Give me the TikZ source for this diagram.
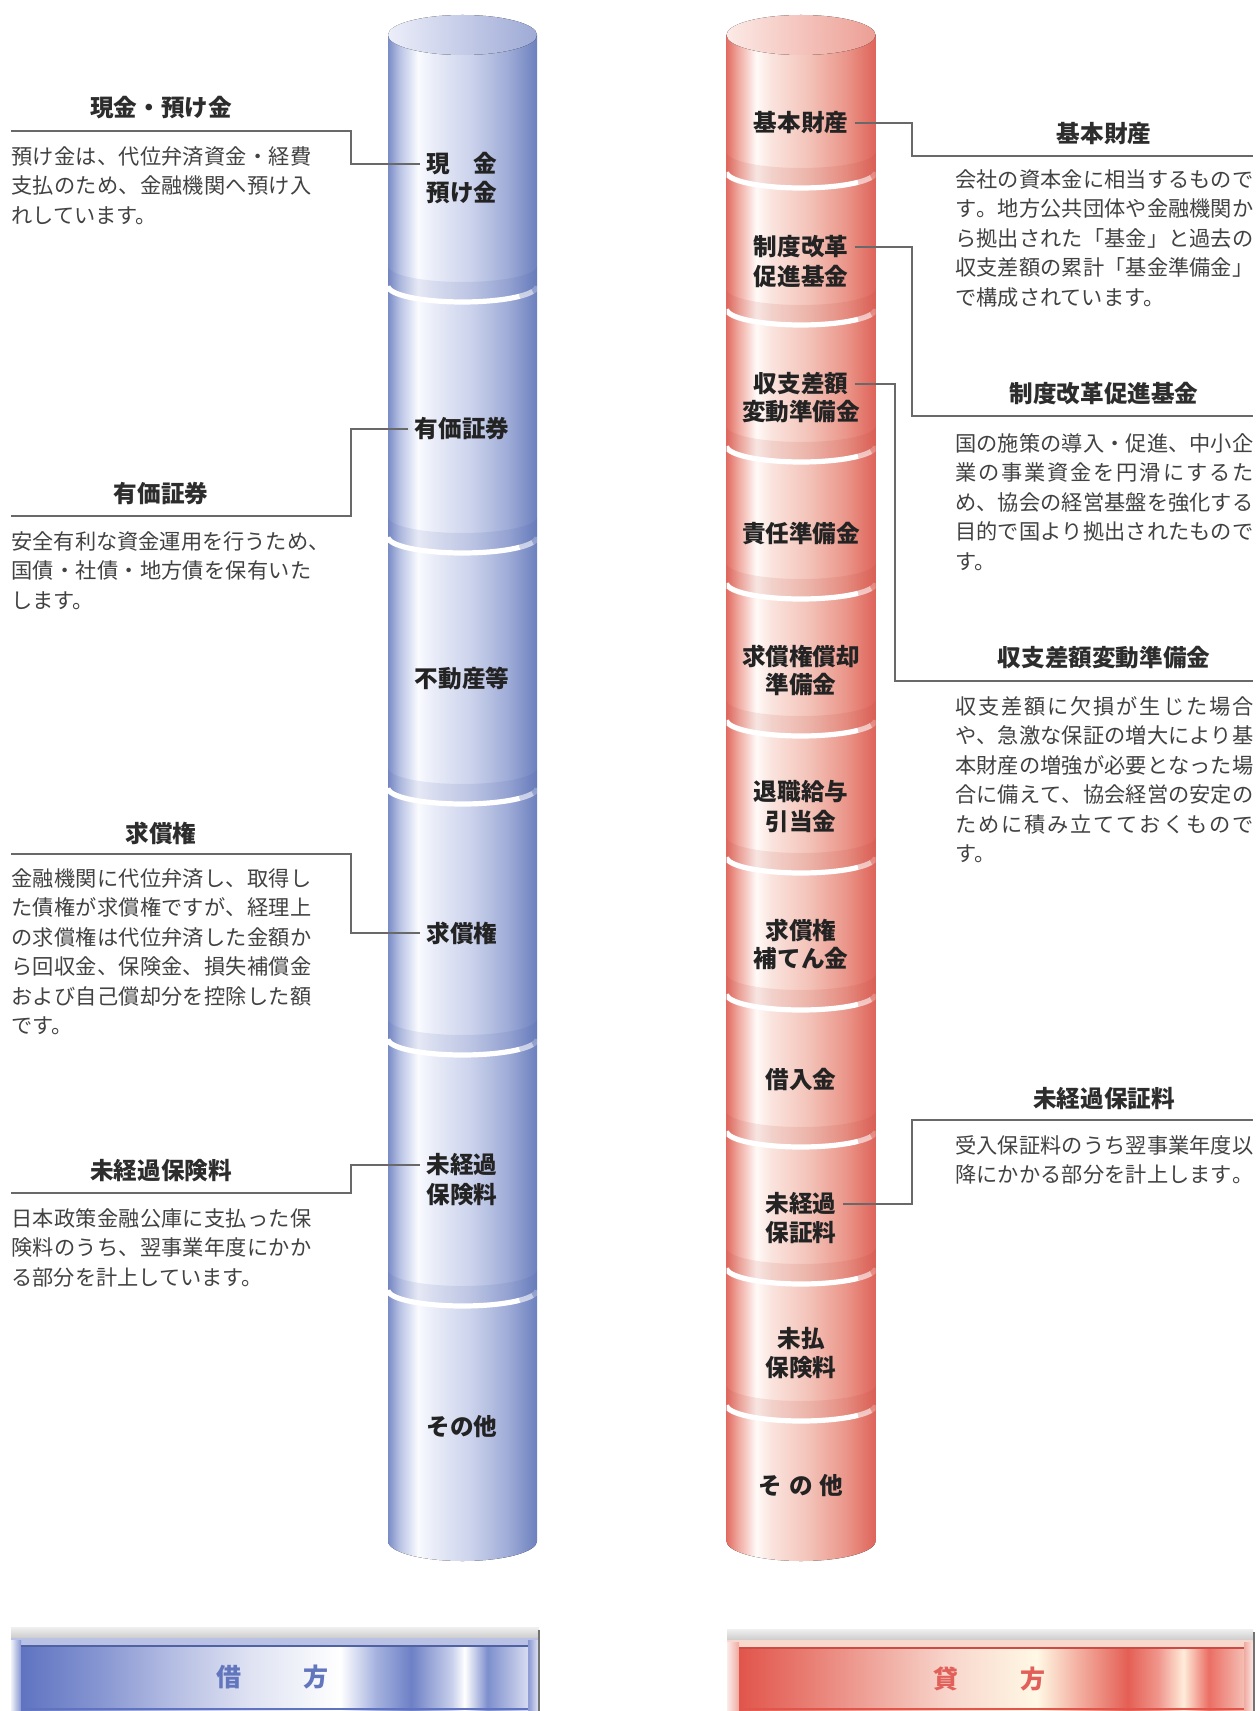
\documentclass[tikz,border=0pt]{standalone}
\usepackage{fontspec}
\newfontfamily\jp{Noto Sans CJK JP}
\usetikzlibrary{calc}

% text and line colours
\definecolor{txtbody}{RGB}{66,66,66}
\definecolor{txthead}{RGB}{45,45,45}
\definecolor{txtlab}{RGB}{35,35,35}
\definecolor{rulegray}{RGB}{105,105,105}

% blue column
\definecolor{bb0}{RGB}{122,140,198}
\definecolor{bb1}{RGB}{185,195,228}
\definecolor{bb2}{RGB}{250,251,255}
\definecolor{bb3}{RGB}{234,237,248}
\definecolor{bb4}{RGB}{204,211,236}
\definecolor{bb5}{RGB}{160,173,216}
\definecolor{bb6}{RGB}{108,128,190}
\definecolor{bt1}{RGB}{236,238,249}
\definecolor{bt2}{RGB}{158,170,214}
\definecolor{blueband}{RGB}{60,80,160}
% red column
\definecolor{rb0}{RGB}{226,108,98}
\definecolor{rb1}{RGB}{240,170,160}
\definecolor{rb2}{RGB}{255,250,248}
\definecolor{rb3}{RGB}{250,228,222}
\definecolor{rb4}{RGB}{243,195,185}
\definecolor{rb5}{RGB}{235,150,138}
\definecolor{rb6}{RGB}{222,100,90}
\definecolor{rt1}{RGB}{252,234,230}
\definecolor{rt2}{RGB}{236,158,148}
\definecolor{redband}{RGB}{180,50,40}

% bottom panels
\definecolor{bp0}{RGB}{95,115,192}
\definecolor{bp1}{RGB}{135,150,210}
\definecolor{bp2}{RGB}{185,193,228}
\definecolor{bp3}{RGB}{222,226,242}
\definecolor{bp4}{RGB}{165,178,222}
\definecolor{bp5}{RGB}{110,128,198}
\definecolor{bp6}{RGB}{200,208,235}
\definecolor{bp7}{RGB}{125,142,205}
\definecolor{bp8}{RGB}{215,220,240}
\definecolor{rp0}{RGB}{225,85,75}
\definecolor{rp1}{RGB}{232,120,110}
\definecolor{rp2}{RGB}{240,170,160}
\definecolor{rp3}{RGB}{248,215,205}
\definecolor{rp4}{RGB}{255,248,228}
\definecolor{rp5}{RGB}{245,185,170}
\definecolor{rp6}{RGB}{228,95,85}
\definecolor{rp7}{RGB}{240,150,140}
\definecolor{rp8}{RGB}{255,236,218}
\definecolor{rp9}{RGB}{235,110,100}
\definecolor{rp10}{RGB}{245,190,180}
\definecolor{debit}{RGB}{98,118,190}
\definecolor{credit}{RGB}{226,96,90}

\pgfdeclarehorizontalshading{bluebody}{100bp}{color(0bp)=(bb0); color(25bp)=(bb0); color(29bp)=(bb1); color(35bp)=(bb2); color(40bp)=(bb3); color(52.5bp)=(bb4); color(65bp)=(bb5); color(75bp)=(bb6); color(100bp)=(bb6)}
\pgfdeclarehorizontalshading{redbody}{100bp}{color(0bp)=(rb0); color(25bp)=(rb0); color(29bp)=(rb1); color(35bp)=(rb2); color(40bp)=(rb3); color(52.5bp)=(rb4); color(65bp)=(rb5); color(75bp)=(rb6); color(100bp)=(rb6)}
\pgfdeclarehorizontalshading{bluepanel}{100bp}{color(0bp)=(bp0); color(25bp)=(bp0); color(32.8bp)=(bp1); color(40.7bp)=(bp2); color(47.5bp)=(bp3); color(56.5bp)=(white); color(60bp)=(bp4); color(63.5bp)=(bp5); color(67.5bp)=(bp6); color(68.75bp)=(white); color(71bp)=(bp7); color(75bp)=(bp8); color(100bp)=(bp8)}
\pgfdeclarehorizontalshading{redpanel}{100bp}{color(0bp)=(rp0); color(25bp)=(rp0); color(31bp)=(rp1); color(39bp)=(rp2); color(46bp)=(rp3); color(54.5bp)=(rp4); color(58bp)=(rp5); color(63.5bp)=(rp6); color(66.5bp)=(rp7); color(69bp)=(rp8); color(71.5bp)=(rp9); color(75bp)=(rp10); color(100bp)=(rp10)}

% a line spread evenly over the full text width
\def\jlfirst#1{#1\jlrest}
\def\jlrest#1{\ifx\relax#1\else\hfil#1\expandafter\jlrest\fi}
\newcommand\jl[1]{\leavevmode\hbox to \linewidth{\jlfirst#1\relax}}

\tikzset{
  bodytext/.style={anchor=north west, inner sep=0pt, text width=150pt, align=left,
    font=\jp\fontsize{10.6pt}{14.75pt}\selectfont, text=txtbody},
  bodytextr/.style={bodytext, text width=149pt},
  headtext/.style={inner sep=0pt, font=\jp\bfseries\fontsize{11.8pt}{14pt}\selectfont, text=txthead},
  coltext/.style={inner sep=3pt, font=\jp\bfseries\fontsize{11.8pt}{14pt}\selectfont, text=txtlab},
  conn/.style={draw=rulegray, line width=0.75pt},
  sidetext/.style={inner sep=0pt, font=\jp\bfseries\fontsize{12.5pt}{14pt}\selectfont},
}

\begin{document}
\begin{tikzpicture}[x=0.5pt,y=-0.5pt]
\useasboundingbox (0,0) rectangle (1256,1711);
\fill[white] (0,0) rectangle (1256,1711);

% ---- the two stacked columns ----
\foreach \cx/\body/\tl/\tr/\band/\seps in {462.5/bluebody/bt1/bt2/blueband/{286,537,788,1039,1290},801/redbody/rt1/rt2/redband/{172,309,446,583,720,857,994,1131,1268,1405}}{
  \begin{scope}
    \path[clip] (\cx-74.5,35) -- (\cx-74.5,1541)
      -- plot[domain=180:0,samples=41] ({\cx+74.5*cos(\x)},{1541+20*sin(\x)})
      -- (\cx+74.5,35) -- cycle;
    \fill[shading=\body] (\cx-74.5,10) rectangle (\cx+74.5,1565);
    \foreach \s in \seps {
      % darker rim at the foot of the upper block
      \fill[\band,opacity=.10]
        plot[domain=180:0,samples=31] ({\cx+74.5*cos(\x)},{\s-20+16*sin(\x)})
        -- plot[domain=0:180,samples=31] ({\cx+74.5*cos(\x)},{\s+16*sin(\x)}) -- cycle;
      % white joint between two blocks
      \draw[white,line width=2.6pt]
        plot[domain=180:40,samples=31] ({\cx+74.5*cos(\x)},{\s+16*sin(\x)});
      \draw[white,line width=2.6pt,opacity=.6]
        plot[domain=40:20,samples=8] ({\cx+74.5*cos(\x)},{\s+16*sin(\x)});
      \draw[white,line width=2.6pt,opacity=.25]
        plot[domain=20:0,samples=8] ({\cx+74.5*cos(\x)},{\s+16*sin(\x)});
    }
  \end{scope}
  \fill[left color=\tl,right color=\tr] (\cx,35) ellipse [x radius=37.25pt,y radius=10pt];
}

% ---- labels in the blue column ----
\node[coltext] (lA1) at (462,164) {現　金};
\node[coltext] (lA2) at (462,193) {預け金};
\node[coltext] (lB)  at (462,429) {有価証券};
\node[coltext] (lE)  at (462,679) {不動産等};
\node[coltext] (lC)  at (462,933) {求償権};
\node[coltext] (lD1) at (462,1165) {未経過};
\node[coltext] (lD2) at (462,1195) {保険料};
\node[coltext] (lF)  at (462,1427) {その他};

% ---- labels in the red column ----
\node[coltext] (lR1)  at (801,123) {基本財産};
\node[coltext] (lR2a) at (801,247) {制度改革};
\node[coltext] (lR2b) at (801,276) {促進基金};
\node[coltext] (lR3a) at (801,384) {収支差額};
\node[coltext] (lR3b) at (801,412) {変動準備金};
\node[coltext] (lR5)  at (801,534) {責任準備金};
\node[coltext] (lR6a) at (801,656) {求償権償却};
\node[coltext] (lR6b) at (801,685) {準備金};
\node[coltext] (lR7a) at (801,792) {退職給与};
\node[coltext] (lR7b) at (801,821) {引当金};
\node[coltext] (lR8a) at (801,930) {求償権};
\node[coltext] (lR8b) at (801,958) {補てん金};
\node[coltext] (lR9)  at (801,1080) {借入金};
\node[coltext] (lR4a) at (801,1204) {未経過};
\node[coltext] (lR4b) at (801,1233) {保証料};
\node[coltext] (lR10a) at (801,1339) {未払};
\node[coltext] (lR10b) at (801,1368) {保険料};
\node[coltext] (lR11) at (801,1486) {そ\hspace{3.5pt}の\hspace{3.5pt}他};

% ---- left explanations ----
\node[headtext] (hA) at (161,108) {現金・預け金};
\node[bodytext] (tA) at (11,146) {\jl{預け金は、代位弁済資金・経費}\\\jl{支払のため、金融機関へ預け入}\\れしています。};
\coordinate (kA) at (351,131);
\coordinate (rA) at (11,131);
\draw[conn] (lA1.west) -- (lA1.west -| kA) -- (kA) -- (rA);

\node[headtext] (hB) at (161,494) {有価証券};
\node[bodytext] (tB) at (11,531) {安全有利な資金運用を行うため、\\\jl{国債・社債・地方債を保有いた}\\します。};
\coordinate (kB) at (351,516);
\coordinate (rB) at (11,516);
\draw[conn] (lB.west) -- (lB.west -| kB) -- (kB) -- (rB);

\node[headtext] (hC) at (161,833) {求償権};
\node[bodytext] (tC) at (11,868) {\jl{金融機関に代位弁済し、取得し}\\\jl{た債権が求償権ですが、経理上}\\\jl{の求償権は代位弁済した金額か}\\\jl{ら回収金、保険金、損失補償金}\\\jl{および自己償却分を控除した額}\\です。};
\coordinate (kC) at (351,854);
\coordinate (rC) at (11,854);
\draw[conn] (lC.west) -- (lC.west -| kC) -- (kC) -- (rC);

\node[headtext] (hD) at (161,1171) {未経過保険料};
\node[bodytext] (tD) at (11,1208) {\jl{日本政策金融公庫に支払った保}\\\jl{険料のうち、翌事業年度にかか}\\る部分を計上しています。};
\coordinate (kD) at (351,1193);
\coordinate (rD) at (11,1193);
\draw[conn] (lD1.west) -- (lD1.west -| kD) -- (kD) -- (rD);

% ---- right explanations ----
\node[headtext] (hR1) at (1104,134) {基本財産};
\node[bodytextr] (tR1) at (955,169) {\jl{会社の資本金に相当するもので}\\\jl{す。地方公共団体や金融機関か}\\\jl{ら拠出された「基金」と過去の}\\\jl{収支差額の累計「基金準備金」}\\で構成されています。};
\coordinate (kR1) at (912,156);
\coordinate (rR1) at (1253,156);
\draw[conn] (lR1.east) -- (lR1.east -| kR1) -- (kR1) -- (rR1);

\node[headtext] (hR2) at (1104,394) {制度改革促進基金};
\node[bodytextr] (tR2) at (955,433) {\jl{国の施策の導入・促進、中小企}\\\jl{業の事業資金を円滑にするた}\\\jl{め、協会の経営基盤を強化する}\\\jl{目的で国より拠出されたもので}\\す。};
\coordinate (kR2) at (912,416);
\coordinate (rR2) at (1253,416);
\draw[conn] (lR2a.east) -- (lR2a.east -| kR2) -- (kR2) -- (rR2);

\node[headtext] (hR3) at (1104,658) {収支差額変動準備金};
\node[bodytextr] (tR3) at (955,696) {\jl{収支差額に欠損が生じた場合}\\\jl{や、急激な保証の増大により基}\\\jl{本財産の増強が必要となった場}\\\jl{合に備えて、協会経営の安定の}\\\jl{ために積み立てておくもので}\\す。};
\coordinate (kR3) at (895,681);
\coordinate (rR3) at (1253,681);
\draw[conn] (lR3a.east) -- (lR3a.east -| kR3) -- (kR3) -- (rR3);

\node[headtext] (hR4) at (1104,1099) {未経過保証料};
\node[bodytextr] (tR4) at (955,1135) {\jl{受入保証料のうち翌事業年度以}\\\jl{降にかかる部分を計上します。}};
\coordinate (kR4) at (912,1120);
\coordinate (rR4) at (1253,1120);
\draw[conn] (lR4a.east) -- (lR4a.east -| kR4) -- (kR4) -- (rR4);

% ---- bottom title bars ----
\fill[top color=white!94!black, bottom color=white!80!black] (11,1627) rectangle (539,1638);
\fill[bp2] (11,1638) rectangle (539,1711);
\fill[left color=white!90!bp0, right color=bp1] (11,1640) rectangle (21,1711);
\fill[left color=bp1, right color=white!85!bp0] (528,1640) rectangle (539,1711);
\fill[shading=bluepanel] (21,1646) rectangle (528,1711);
\draw[bp0!85!black, line width=1.2pt] (21,1646) -- (528,1646);
\draw[bp0, line width=1pt] (21,1709) -- (528,1709);
\draw[black!55, line width=0.8pt] (539,1630) -- (539,1711);
\node[sidetext, text=debit] (debitT) at (272.5,1677) {借\hspace{31pt}方};

\fill[top color=white!94!black, bottom color=white!80!black] (727,1629) rectangle (1253,1640);
\fill[rp3] (727,1640) rectangle (1253,1711);
\fill[left color=white!88!rp0, right color=rp2] (727,1642) rectangle (739,1711);
\fill[left color=rp2, right color=white!85!rp0] (1244,1642) rectangle (1253,1711);
\fill[shading=redpanel] (739,1648) rectangle (1244,1711);
\draw[rp0!90!black, line width=1.2pt] (739,1648) -- (1244,1648);
\draw[rp0, line width=1pt] (739,1709) -- (1244,1709);
\draw[black!55, line width=0.8pt] (1254,1632) -- (1254,1711);
\node[sidetext, text=credit] (creditT) at (989.5,1679) {貸\hspace{31pt}方};
\end{tikzpicture}
\end{document}
